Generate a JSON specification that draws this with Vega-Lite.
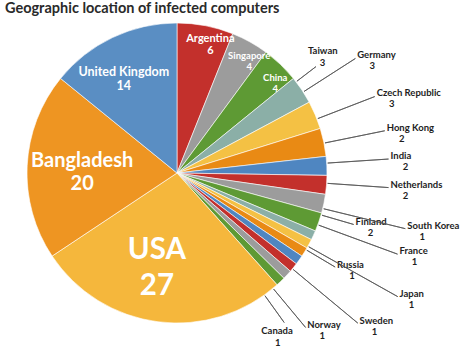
{
  "$schema": "https://vega.github.io/schema/vega-lite/v6.json",
  "width": 354,
  "height": 292,
  "autosize": {"type": "none"},
  "padding": {"left": 0, "top": 27, "right": 114, "bottom": 38},
  "title": {"text": "Geographic location of infected computers", "anchor": "start", "frame": "group", "font": "Lato", "fontSize": 14.5, "fontWeight": "bold", "color": "#2a2a2a", "dx": 5, "offset": 5},
  "config": {"view": {"stroke": null}, "text": {"font": "Lato", "fontWeight": "bold"}},
  "data": {"values": [
    {"idx": 1, "country": "Argentina", "value": 6},
    {"idx": 2, "country": "Singapore", "value": 4},
    {"idx": 3, "country": "China", "value": 4},
    {"idx": 4, "country": "Taiwan", "value": 3},
    {"idx": 5, "country": "Germany", "value": 3},
    {"idx": 6, "country": "Czech Republic", "value": 3},
    {"idx": 7, "country": "Hong Kong", "value": 2},
    {"idx": 8, "country": "India", "value": 2},
    {"idx": 9, "country": "Netherlands", "value": 2},
    {"idx": 10, "country": "Finland", "value": 2},
    {"idx": 11, "country": "South Korea", "value": 1},
    {"idx": 12, "country": "France", "value": 1},
    {"idx": 13, "country": "Russia", "value": 1},
    {"idx": 14, "country": "Japan", "value": 1},
    {"idx": 15, "country": "Sweden", "value": 1},
    {"idx": 16, "country": "Norway", "value": 1},
    {"idx": 17, "country": "Canada", "value": 1},
    {"idx": 18, "country": "USA", "value": 27},
    {"idx": 19, "country": "Bangladesh", "value": 20},
    {"idx": 20, "country": "United Kingdom", "value": 14}
  ]},
  "resolve": {"scale": {"theta": "independent", "size": "independent"}},
  "layer": [
    {
      "mark": {"type": "arc", "outerRadius": 150, "stroke": "#ffffff", "strokeWidth": 0.6},
      "encoding": {
        "theta": {"field": "value", "type": "quantitative", "stack": true},
        "order": {"field": "idx", "type": "quantitative"},
        "color": {"field": "country", "type": "nominal", "legend": null,
          "scale": {"domain": ["Argentina","Singapore","China","Taiwan","Germany","Czech Republic","Hong Kong","India","Netherlands","Finland","South Korea","France","Russia","Japan","Sweden","Norway","Canada","USA","Bangladesh","United Kingdom"],
                    "range": ["#c3302c","#9c9c9c","#5e9a34","#8bafa7","#f4c144","#e98a14","#4f86c1","#c3302c","#9c9c9c","#5e9a34","#8bafa7","#f4c144","#e98a14","#4f86c1","#c3302c","#9c9c9c","#5e9a34","#f5b73c","#ee9522","#5a8ec3"]}}
      }
    },

    {
      "transform": [
        {"stack": "value", "groupby": [], "sort": [{"field": "idx", "order": "ascending"}], "as": ["s0", "s1"]},
        {"filter": {"field": "country", "oneOf": ["Argentina", "Singapore", "China"]}},
        {"fold": ["s0", "s1"], "as": ["edge", "pos"]},
        {"aggregate": [{"op": "mean", "field": "pos", "as": "mid"}], "groupby": ["country", "value"]}
      ],
      "layer": [
        {"mark": {"type": "text", "radius": 134, "align": "center", "baseline": "alphabetic", "color": "#ffffff", "dy": -1},
         "encoding": {
           "theta": {"field": "mid", "type": "quantitative", "scale": {"domain": [0, 99], "range": [0.06109, 6.34428]}},
           "size": {"field": "value", "type": "quantitative", "legend": null, "scale": {"type": "threshold", "domain": [5], "range": [9.5, 11]}},
           "text": {"field": "country", "type": "nominal"}}},
        {"mark": {"type": "text", "radius": 134, "align": "center", "baseline": "top", "color": "#ffffff", "dy": 2},
         "encoding": {
           "theta": {"field": "mid", "type": "quantitative", "scale": {"domain": [0, 99], "range": [0.06109, 6.34428]}},
           "size": {"field": "value", "type": "quantitative", "legend": null, "scale": {"type": "threshold", "domain": [5], "range": [9.5, 11]}},
           "text": {"field": "value", "type": "quantitative"}}}
      ]
    },

    {
      "transform": [
        {"stack": "value", "groupby": [], "sort": [{"field": "idx", "order": "ascending"}], "as": ["s0", "s1"]},
        {"filter": {"field": "country", "equal": "USA"}},
        {"fold": ["s0", "s1"], "as": ["edge", "pos"]},
        {"aggregate": [{"op": "mean", "field": "pos", "as": "mid"}], "groupby": ["country", "value"]}
      ],
      "layer": [
        {"mark": {"type": "text", "radius": 88, "align": "center", "baseline": "alphabetic", "color": "#ffffff", "fontSize": 29.5, "dy": 0},
         "encoding": {"theta": {"field": "mid", "type": "quantitative", "scale": {"domain": [0, 99], "range": [0.10297, 6.38616]}}, "text": {"field": "country", "type": "nominal"}}},
        {"mark": {"type": "text", "radius": 88, "align": "center", "baseline": "top", "color": "#ffffff", "fontSize": 29.5, "dy": 13},
         "encoding": {"theta": {"field": "mid", "type": "quantitative", "scale": {"domain": [0, 99], "range": [0.10297, 6.38616]}}, "text": {"field": "value", "type": "quantitative"}}}
      ]
    },

    {
      "transform": [
        {"stack": "value", "groupby": [], "sort": [{"field": "idx", "order": "ascending"}], "as": ["s0", "s1"]},
        {"filter": {"field": "country", "equal": "Bangladesh"}},
        {"fold": ["s0", "s1"], "as": ["edge", "pos"]},
        {"aggregate": [{"op": "mean", "field": "pos", "as": "mid"}], "groupby": ["country", "value"]}
      ],
      "layer": [
        {"mark": {"type": "text", "radius": 95, "align": "center", "baseline": "alphabetic", "color": "#ffffff", "fontSize": 20, "dy": -1},
         "encoding": {"theta": {"field": "mid", "type": "quantitative", "scale": {"domain": [0, 99], "range": [0.00524, 6.28842]}}, "text": {"field": "country", "type": "nominal"}}},
        {"mark": {"type": "text", "radius": 95, "align": "center", "baseline": "top", "color": "#ffffff", "fontSize": 20, "dy": 6},
         "encoding": {"theta": {"field": "mid", "type": "quantitative", "scale": {"domain": [0, 99], "range": [0.00524, 6.28842]}}, "text": {"field": "value", "type": "quantitative"}}}
      ]
    },

    {
      "transform": [
        {"stack": "value", "groupby": [], "sort": [{"field": "idx", "order": "ascending"}], "as": ["s0", "s1"]},
        {"filter": {"field": "country", "equal": "United Kingdom"}},
        {"fold": ["s0", "s1"], "as": ["edge", "pos"]},
        {"aggregate": [{"op": "mean", "field": "pos", "as": "mid"}], "groupby": ["country", "value"]}
      ],
      "layer": [
        {"mark": {"type": "text", "radius": 111, "align": "center", "baseline": "alphabetic", "color": "#ffffff", "fontSize": 12.5, "dy": 0},
         "encoding": {"theta": {"field": "mid", "type": "quantitative", "scale": {"domain": [0, 99], "range": [-0.05585, 6.22734]}}, "text": {"field": "country", "type": "nominal"}}},
        {"mark": {"type": "text", "radius": 111, "align": "center", "baseline": "top", "color": "#ffffff", "fontSize": 12.5, "dy": 4},
         "encoding": {"theta": {"field": "mid", "type": "quantitative", "scale": {"domain": [0, 99], "range": [-0.05585, 6.22734]}}, "text": {"field": "value", "type": "quantitative"}}}
      ]
    },

    {
      "transform": [
        {"stack": "value", "groupby": [], "sort": [{"field": "idx", "order": "ascending"}], "as": ["s0", "s1"]},
        {"filter": {"field": "country", "equal": "Taiwan"}},
        {"fold": ["s0", "s1"], "as": ["edge", "pos"]},
        {"aggregate": [{"op": "mean", "field": "pos", "as": "mid"}], "groupby": ["country", "value"]}
      ],
      "layer": [
        {"mark": {"type": "arc", "innerRadius": 151, "outerRadius": 175, "filled": false, "stroke": "#555555", "strokeWidth": 0.8},
         "encoding": {"theta": {"field": "mid", "type": "quantitative", "scale": {"domain": [0, 99], "range": [-0.06632, 6.21686]}}, "theta2": {"field": "mid"}}},
        {"mark": {"type": "text", "radius": 176, "align": "center", "baseline": "alphabetic", "fontSize": 9.5, "color": "#1e1e1e", "dx": 6, "dy": -12},
         "encoding": {"theta": {"field": "mid", "type": "quantitative", "scale": {"domain": [0, 99], "range": [-0.06632, 6.21686]}}, "text": {"field": "country", "type": "nominal"}}},
        {"mark": {"type": "text", "radius": 176, "align": "left", "baseline": "alphabetic", "fontSize": 9.5, "color": "#1e1e1e", "dx": 3, "dy": 0},
         "encoding": {"theta": {"field": "mid", "type": "quantitative", "scale": {"domain": [0, 99], "range": [-0.06632, 6.21686]}}, "text": {"field": "value", "type": "quantitative"}}}
      ]
    },

    {
      "transform": [
        {"stack": "value", "groupby": [], "sort": [{"field": "idx", "order": "ascending"}], "as": ["s0", "s1"]},
        {"filter": {"field": "country", "oneOf": ["Germany", "Czech Republic", "Hong Kong", "India", "Netherlands"]}},
        {"fold": ["s0", "s1"], "as": ["edge", "pos"]},
        {"aggregate": [{"op": "mean", "field": "pos", "as": "mid"}], "groupby": ["country", "value"]}
      ],
      "layer": [
        {"mark": {"type": "arc", "innerRadius": 151, "outerRadius": 212, "filled": false, "stroke": "#555555", "strokeWidth": 0.8},
         "encoding": {"theta": {"field": "mid", "type": "quantitative", "scale": {"domain": [0, 99], "range": [-0.24522, 6.41878]}}, "theta2": {"field": "mid"}}},
        {"mark": {"type": "text", "radius": 213, "align": "left", "baseline": "alphabetic", "fontSize": 9.5, "color": "#1e1e1e", "dx": 1},
         "encoding": {"theta": {"field": "mid", "type": "quantitative", "scale": {"domain": [0, 99], "range": [-0.24522, 6.41878]}}, "text": {"field": "country", "type": "nominal"}}},
        {"mark": {"type": "text", "radius": 213, "align": "center", "baseline": "top", "fontSize": 9.5, "color": "#1e1e1e", "dx": 16, "dy": 3},
         "encoding": {"theta": {"field": "mid", "type": "quantitative", "scale": {"domain": [0, 99], "range": [-0.24522, 6.41878]}}, "text": {"field": "value", "type": "quantitative"}}}
      ]
    },

    {
      "transform": [
        {"stack": "value", "groupby": [], "sort": [{"field": "idx", "order": "ascending"}], "as": ["s0", "s1"]},
        {"filter": {"field": "country", "oneOf": ["Finland", "Russia"]}},
        {"fold": ["s0", "s1"], "as": ["edge", "pos"]},
        {"aggregate": [{"op": "mean", "field": "pos", "as": "mid"}], "groupby": ["country", "value"]}
      ],
      "layer": [
        {"mark": {"type": "arc", "innerRadius": 151, "outerRadius": 184, "filled": false, "stroke": "#555555", "strokeWidth": 0.8},
         "encoding": {"theta": {"field": "mid", "type": "quantitative", "scale": {"domain": [0, 99], "range": [-0.31416, 6.84165]}}, "theta2": {"field": "mid"}}},
        {"mark": {"type": "text", "radius": 185, "align": "left", "baseline": "alphabetic", "fontSize": 9.5, "color": "#1e1e1e", "dx": 1},
         "encoding": {"theta": {"field": "mid", "type": "quantitative", "scale": {"domain": [0, 99], "range": [-0.31416, 6.84165]}}, "text": {"field": "country", "type": "nominal"}}},
        {"mark": {"type": "text", "radius": 185, "align": "center", "baseline": "top", "fontSize": 9.5, "color": "#1e1e1e", "dx": 16, "dy": 3},
         "encoding": {"theta": {"field": "mid", "type": "quantitative", "scale": {"domain": [0, 99], "range": [-0.31416, 6.84165]}}, "text": {"field": "value", "type": "quantitative"}}}
      ]
    },

    {
      "transform": [
        {"stack": "value", "groupby": [], "sort": [{"field": "idx", "order": "ascending"}], "as": ["s0", "s1"]},
        {"filter": {"field": "country", "oneOf": ["South Korea", "France", "Sweden"]}},
        {"fold": ["s0", "s1"], "as": ["edge", "pos"]},
        {"aggregate": [{"op": "mean", "field": "pos", "as": "mid"}], "groupby": ["country", "value"]}
      ],
      "layer": [
        {"mark": {"type": "arc", "innerRadius": 151, "outerRadius": 235, "filled": false, "stroke": "#555555", "strokeWidth": 0.8},
         "encoding": {"theta": {"field": "mid", "type": "quantitative", "scale": {"domain": [0, 99], "range": [-1.76366, 9.46764]}}, "theta2": {"field": "mid"}}},
        {"mark": {"type": "text", "radius": 236, "align": "left", "baseline": "alphabetic", "fontSize": 9.5, "color": "#1e1e1e", "dx": 1},
         "encoding": {"theta": {"field": "mid", "type": "quantitative", "scale": {"domain": [0, 99], "range": [-1.76366, 9.46764]}}, "text": {"field": "country", "type": "nominal"}}},
        {"mark": {"type": "text", "radius": 236, "align": "center", "baseline": "top", "fontSize": 9.5, "color": "#1e1e1e", "dx": 16, "dy": 3},
         "encoding": {"theta": {"field": "mid", "type": "quantitative", "scale": {"domain": [0, 99], "range": [-1.76366, 9.46764]}}, "text": {"field": "value", "type": "quantitative"}}}
      ]
    },

    {
      "transform": [
        {"stack": "value", "groupby": [], "sort": [{"field": "idx", "order": "ascending"}], "as": ["s0", "s1"]},
        {"filter": {"field": "country", "equal": "Japan"}},
        {"fold": ["s0", "s1"], "as": ["edge", "pos"]},
        {"aggregate": [{"op": "mean", "field": "pos", "as": "mid"}], "groupby": ["country", "value"]}
      ],
      "layer": [
        {"mark": {"type": "arc", "innerRadius": 151, "outerRadius": 253, "filled": false, "stroke": "#555555", "strokeWidth": 0.8},
         "encoding": {"theta": {"field": "mid", "type": "quantitative", "scale": {"domain": [0, 99], "range": [-0.10821, 6.17498]}}, "theta2": {"field": "mid"}}},
        {"mark": {"type": "text", "radius": 254, "align": "left", "baseline": "alphabetic", "fontSize": 9.5, "color": "#1e1e1e", "dx": 1},
         "encoding": {"theta": {"field": "mid", "type": "quantitative", "scale": {"domain": [0, 99], "range": [-0.10821, 6.17498]}}, "text": {"field": "country", "type": "nominal"}}},
        {"mark": {"type": "text", "radius": 254, "align": "center", "baseline": "top", "fontSize": 9.5, "color": "#1e1e1e", "dx": 13, "dy": 3},
         "encoding": {"theta": {"field": "mid", "type": "quantitative", "scale": {"domain": [0, 99], "range": [-0.10821, 6.17498]}}, "text": {"field": "value", "type": "quantitative"}}}
      ]
    },

    {
      "transform": [
        {"stack": "value", "groupby": [], "sort": [{"field": "idx", "order": "ascending"}], "as": ["s0", "s1"]},
        {"filter": {"field": "country", "equal": "Norway"}},
        {"fold": ["s0", "s1"], "as": ["edge", "pos"]},
        {"aggregate": [{"op": "mean", "field": "pos", "as": "mid"}], "groupby": ["country", "value"]}
      ],
      "layer": [
        {"mark": {"type": "arc", "innerRadius": 151, "outerRadius": 201, "filled": false, "stroke": "#555555", "strokeWidth": 0.8},
         "encoding": {"theta": {"field": "mid", "type": "quantitative", "scale": {"domain": [0, 99], "range": [0.1309, 6.41388]}}, "theta2": {"field": "mid"}}},
        {"mark": {"type": "text", "radius": 202, "align": "left", "baseline": "alphabetic", "fontSize": 9.5, "color": "#1e1e1e", "dx": 1},
         "encoding": {"theta": {"field": "mid", "type": "quantitative", "scale": {"domain": [0, 99], "range": [0.1309, 6.41388]}}, "text": {"field": "country", "type": "nominal"}}},
        {"mark": {"type": "text", "radius": 202, "align": "center", "baseline": "top", "fontSize": 9.5, "color": "#1e1e1e", "dx": 16, "dy": 3},
         "encoding": {"theta": {"field": "mid", "type": "quantitative", "scale": {"domain": [0, 99], "range": [0.1309, 6.41388]}}, "text": {"field": "value", "type": "quantitative"}}}
      ]
    },

    {
      "transform": [
        {"stack": "value", "groupby": [], "sort": [{"field": "idx", "order": "ascending"}], "as": ["s0", "s1"]},
        {"filter": {"field": "country", "equal": "Canada"}},
        {"fold": ["s0", "s1"], "as": ["edge", "pos"]},
        {"aggregate": [{"op": "mean", "field": "pos", "as": "mid"}], "groupby": ["country", "value"]}
      ],
      "layer": [
        {"mark": {"type": "arc", "innerRadius": 151, "outerRadius": 184, "filled": false, "stroke": "#555555", "strokeWidth": 0.8},
         "encoding": {"theta": {"field": "mid", "type": "quantitative", "scale": {"domain": [0, 99], "range": [0.13963, 6.42282]}}, "theta2": {"field": "mid"}}},
        {"mark": {"type": "text", "radius": 185, "align": "right", "baseline": "top", "fontSize": 9.5, "color": "#1e1e1e", "dx": 8, "dy": 3},
         "encoding": {"theta": {"field": "mid", "type": "quantitative", "scale": {"domain": [0, 99], "range": [0.13963, 6.42282]}}, "text": {"field": "country", "type": "nominal"}}},
        {"mark": {"type": "text", "radius": 185, "align": "center", "baseline": "top", "fontSize": 9.5, "color": "#1e1e1e", "dx": -7, "dy": 15},
         "encoding": {"theta": {"field": "mid", "type": "quantitative", "scale": {"domain": [0, 99], "range": [0.13963, 6.42282]}}, "text": {"field": "value", "type": "quantitative"}}}
      ]
    }
  ]
}
